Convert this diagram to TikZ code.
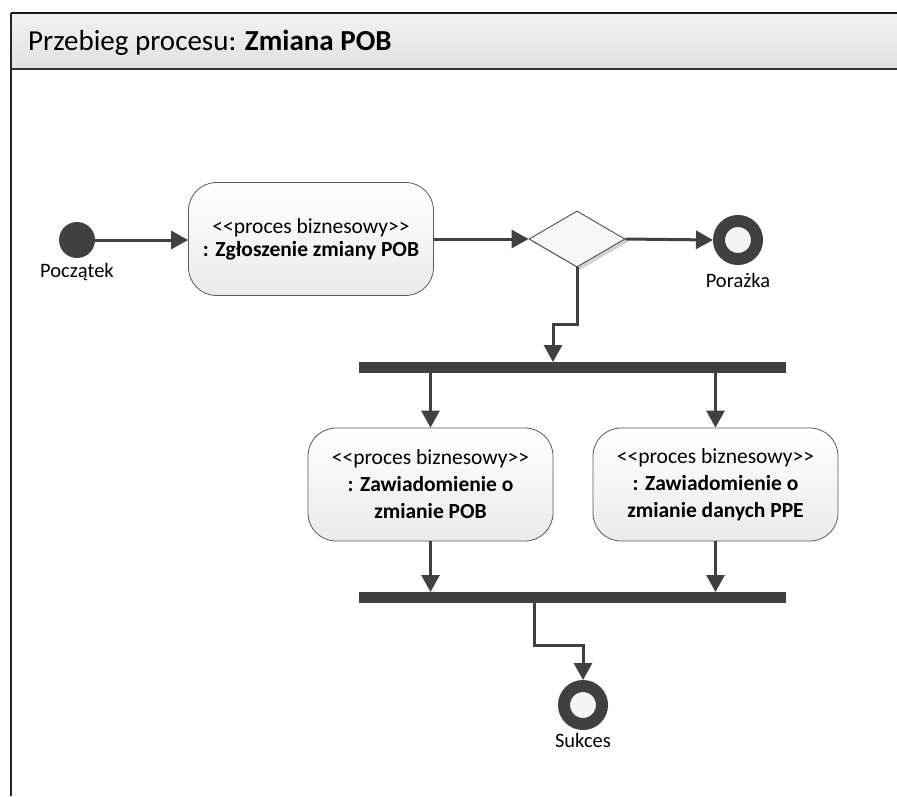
\documentclass[tikz,border=0pt]{standalone}
\usepackage{fontspec}
\setmainfont{Carlito}[Ligatures=TeXOff]
\usetikzlibrary{arrows.meta,shapes.geometric,shadows}
\definecolor{dk}{RGB}{64,64,64}
\definecolor{boxline}{RGB}{90,90,90}
\definecolor{ringin}{RGB}{244,244,244}
\begin{document}
\begin{tikzpicture}[x=1pt,y=-1pt,
  conn/.style={draw=dk, line width=3pt, -{Triangle[length=17pt,width=18pt]}},
  procbox/.style={shape=rectangle, rounded corners=28pt, draw=boxline, line width=0.8pt,
    top color=white, bottom color=gray!16, minimum width=245pt, minimum height=113pt,
    inner sep=0pt, align=center},
  startdot/.style={shape=circle, fill=dk, minimum size=36pt, inner sep=0pt, outer sep=0pt},
  enddot/.style={shape=circle, draw=dk, line width=12pt, fill=ringin, minimum size=38pt,
    inner sep=0pt, outer sep=6pt},
  syncbar/.style={shape=rectangle, fill=dk, minimum width=427pt, minimum height=11pt,
    inner sep=0pt, outer sep=0pt},
  decision/.style={shape=diamond, draw=dk, line width=0.8pt, fill=gray!6,
    minimum width=96pt, minimum height=56pt, inner sep=0pt,
    drop shadow={shadow xshift=3pt, shadow yshift=-3pt, fill=gray!35, opacity=1}},
  lbl/.style={font=\fontsize{20.5}{24}\selectfont, anchor=base, inner sep=0pt}
]
\useasboundingbox (0,0) rectangle (897,796);
% frame and header
\shade[top color=gray!10, bottom color=gray!24] (11,13) rectangle (897,69);
\draw[line width=2pt, black!90] (11,13) -- (897,13);
\draw[line width=2pt, black!80] (11,69) -- (897,69);
\draw[line width=1.5pt, black!85] (11,13) -- (11,796);
\node[anchor=base west, inner sep=0pt, font=\fontsize{29}{33}\selectfont] (title) at (28,50)
  {Przebieg procesu: \textbf{Zmiana POB}};

% nodes
\node[startdot] (start) at (77,240) {};
\node[lbl] (lstart) at (77,277) {Początek};
\node[procbox, font=\fontsize{21.5}{23}\selectfont] (box1) at (311,239)
  {<<proces biznesowy>>\\\textbf{: Zgłoszenie zmiany POB}};
\node[decision] (dia) at (577,239) {};
\node[enddot] (por) at (738,240) {};
\node[lbl] (lpor) at (738,287) {Porażka};
\node[syncbar] (bar1) at (572.5,367.5) {};
\node[procbox, font=\fontsize{21.5}{27}\selectfont] (box2) at (430.5,484.5)
  {<<proces biznesowy>>\\\textbf{: Zawiadomienie o}\\\textbf{zmianie POB}};
\node[procbox, font=\fontsize{21.5}{27}\selectfont] (box3) at (715.5,484.5)
  {<<proces biznesowy>>\\\textbf{: Zawiadomienie o}\\\textbf{zmianie danych PPE}};
\node[syncbar] (bar2) at (572.5,597.5) {};
\node[enddot] (suk) at (583,705) {};
\node[lbl] (lsuk) at (583,747) {Sukces};

\coordinate (j1) at (553,324);
\coordinate (j2) at (534,645);

% connectors
\draw[conn] (start) -- (start -| box1.west);
\draw[conn] (box1.east) -- (dia.west);
\draw[conn] (dia.east) -- (por.west);
\draw[conn] (dia.south) |- (j1) -- (j1 |- bar1.north);
\draw[conn] (bar1.south -| box2.north) -- (box2.north);
\draw[conn] (bar1.south -| box3.north) -- (box3.north);
\draw[conn] (box2.south) -- (box2.south |- bar2.north);
\draw[conn] (box3.south) -- (box3.south |- bar2.north);
\draw[conn] (j2 |- bar2.south) -- (j2) -| (suk.north);
\end{tikzpicture}
\end{document}
